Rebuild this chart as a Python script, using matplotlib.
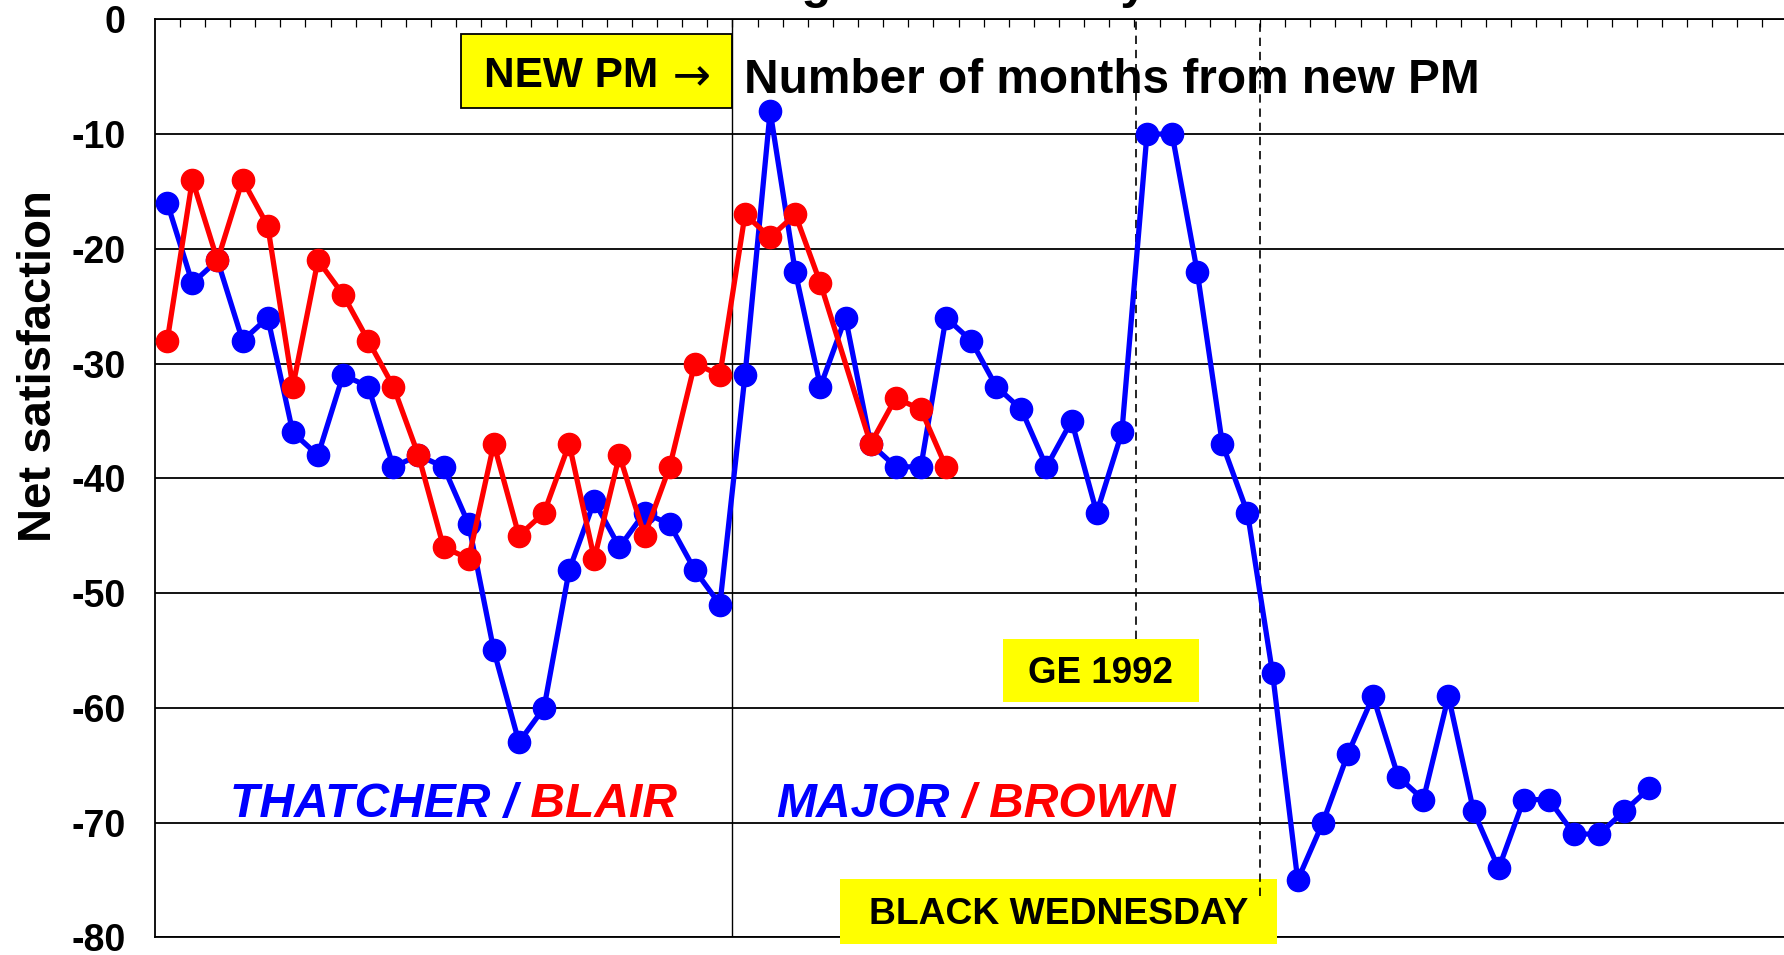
import numpy as np
import matplotlib.pyplot as plt
from matplotlib.patches import Rectangle

# months counted from the day the new PM took over
thatcher_months = list(range(-23, 0))
thatcher = [-16, -23, -21, -28, -26, -36, -38, -31, -32, -39, -38, -39, -44,
            -55, -63, -60, -48, -42, -46, -43, -44, -48, -51]
blair_months = list(range(-23, 0))
blair = [-28, -14, -21, -14, -18, -32, -21, -24, -28, -32, -38, -46, -47,
         -37, -45, -43, -37, -47, -38, -45, -39, -30, -31]
major_months = list(range(0, 37))
major = [-31, -8, -22, -32, -26, -37, -39, -39, -26, -28, -32, -34, -39,
         -35, -43, -36, -10, -10, -22, -37, -43, -57, -75, -70, -64, -59,
         -66, -68, -59, -69, -74, -68, -68, -71, -71, -69, -67]
brown_months = [0, 1, 2, 3, 5, 6, 7, 8]  # no poll in month 4
brown = [-17, -19, -17, -23, -37, -33, -34, -39]

y_ticks = [0, -10, -20, -30, -40, -50, -60, -70, -80]
ge_1992 = 16          # month boundary of the 1992 general election
black_wednesday = 21  # month boundary of Black Wednesday

blue = '#0000FF'
red = '#FF0000'
yellow = '#FFFF00'

plt.rcParams['font.family'] = ['Liberation Sans', 'DejaVu Sans']
plt.rcParams['font.weight'] = 'bold'

fig = plt.figure(figsize=(17.84, 9.55), dpi=100)
ax = fig.add_axes([0.0867, 0.0185, 0.9153, 0.9613])

# each point sits in the middle of its month slot
x_blue = np.array(thatcher_months + major_months) + 0.5
x_red = np.array(blair_months + brown_months) + 0.5
ax.plot(x_blue, thatcher + major, color=blue, lw=3.8, marker='o', ms=16, zorder=5)
ax.plot(x_red, blair + brown, color=red, lw=3.8, marker='o', ms=16, zorder=6)

ax.set_xlim(-23, 42)
ax.set_ylim(-80, 0)

ax.set_yticks(y_ticks)
ax.set_yticklabels([str(v) for v in y_ticks], fontsize=27, fontweight='bold')
ax.tick_params(axis='y', length=0, pad=21)
ax.xaxis.tick_top()
ax.set_xticks(np.arange(-22, 42))
ax.tick_params(axis='x', direction='in', length=6, width=0.9,
               labeltop=False, labelbottom=False, top=True, bottom=False)
ax.grid(axis='y', color='black', lw=1.3)
ax.set_axisbelow(True)
for s in ['top', 'left', 'bottom']:
    ax.spines[s].set_linewidth(1.3)
ax.spines['right'].set_visible(False)

# new PM divider and event markers
ax.axvline(0, color='black', lw=1.0, zorder=2)
ax.vlines(ge_1992 + 0.05, -54, 0, colors='black', linestyles=(0, (5, 3.5)), lw=1.2, zorder=4)
ax.vlines(black_wednesday, -76.4, 0, colors='black', linestyles=(0, (5, 3.5)), lw=1.2, zorder=4)

# NEW PM box
ax.add_patch(Rectangle((-10.8, -7.7), 10.8, 6.4, facecolor=yellow, edgecolor='black', lw=1.3, zorder=3))
t = ax.text(-9.9, -5.93, 'NEW PM', fontsize=30.5, ha='left', va='baseline', zorder=4)
ax.annotate(' \u2192', xy=(1, -5.93), xycoords=(t, 'data'), xytext=(0, -2),
            textcoords='offset points', fontsize=33, fontweight='normal',
            family='DejaVu Sans', ha='left', va='baseline', zorder=4)
ax.text(0.45, -6.4, 'Number of months from new PM', fontsize=34.4, ha='left', va='baseline')

# event boxes
ax.add_patch(Rectangle((10.75, -59.5), 7.83, 5.5, facecolor=yellow, edgecolor='none', zorder=3))
ax.text(14.65, -57.8, 'GE 1992', fontsize=26.5, ha='center', va='baseline', zorder=4)
ax.add_patch(Rectangle((4.27, -80.6), 17.41, 5.67, facecolor=yellow, edgecolor='none',
                       zorder=3, clip_on=False))
ax.text(12.97, -78.86, 'BLACK WEDNESDAY', fontsize=26.8, ha='center', va='baseline', zorder=4)

# series names
t1 = ax.text(-20.0, -69.5, 'THATCHER /', color=blue, fontsize=34.6, style='italic',
             ha='left', va='baseline')
ax.annotate(' BLAIR', xy=(1, -69.5), xycoords=(t1, 'data'), color=red, fontsize=34.6,
            style='italic', ha='left', va='baseline')
t2 = ax.text(1.72, -69.5, 'MAJOR', color=blue, fontsize=34.6, style='italic',
             ha='left', va='baseline')
ax.annotate(' / BROWN', xy=(1, -69.5), xycoords=(t2, 'data'), color=red, fontsize=34.6,
            style='italic', ha='left', va='baseline')

fig.text(0.022, 0.617, 'Net satisfaction', rotation=90, fontsize=34, ha='center', va='center')
# title is cut off by the top edge, only its descenders show
fig.text(0.5056, 1.002, 'MORI ratings: the first 3 years', fontsize=35, ha='center', va='baseline')

fig.savefig('out.png', dpi=100)
